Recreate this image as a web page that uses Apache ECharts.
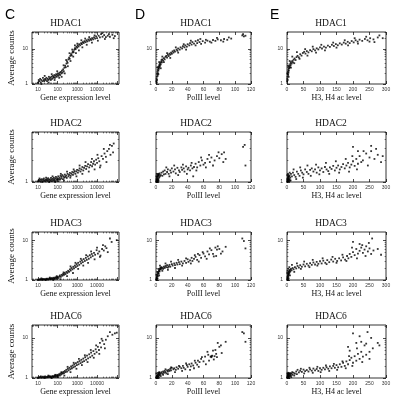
<!DOCTYPE html>
<html>
<head>
<meta charset="UTF-8">
<script src="https://cdn.jsdelivr.net/npm/echarts@6.0.0/dist/echarts.min.js"></script>
<style>
    html, body { margin: 0; padding: 0; background: #fff; }
    #chart { width: 398px; height: 407px; }
</style>
<title>HDAC scatter panels</title>
</head>
<body>
<div id="chart"></div>
<script>
    // labels
    var columnLetters = ['C', 'D', 'E'];
    var rowTitles = ['HDAC1', 'HDAC2', 'HDAC3', 'HDAC6'];
    var xNames = ['Gene expression level', 'PolII level', 'H3, H4 ac level'];
    var yName = 'Average counts';
    var xLabelValues = [[10, 100, 1000, 10000], [0, 20, 40, 60, 80, 100, 120], [0, 50, 100, 150, 200, 250, 300]];
    var yLabelValues = [1, 10];
    var xRange = [[5, 130000], [0, 120], [0, 300]];
    var yMaxByRow = [30, 5, 16, 21];

    // HDAC1
    var geneHdac1 = [[10,1.1],[11,1.3],[12,1.2],[13,1.4],[14,1.1],[15,1.3],[17,1.2],[18,1.5],[20,1.3],[21,1.2],[23,1.4],[25,1.3],[27,1.5],[29,1.2],[31,1.4],[34,1.3],[36,1.6],[39,1.4],[42,1.5],[45,1.3],[48,1.6],[52,1.4],[56,1.7],[60,1.5],[64,1.6],[68,1.8],[73,1.5],[78,1.7],[84,1.9],[90,1.6],[96,1.8],[103,2.0],[110,1.7],[118,1.9],[126,2.1],[135,1.8],[145,2.2],[155,2.0],[165,2.4],[178,2.1],[190,2.6],[205,2.3],[220,2.9],[240,3.3],[260,3.0],[280,3.8],[300,4.4],[320,4.0],[350,5.0],[380,5.6],[410,5.2],[440,6.3],[480,7.0],[520,6.5],[560,7.8],[600,8.5],[650,8.0],[700,9.4],[760,10.5],[820,9.8],[900,11.5],[980,10.8],[1050,12.5],[1150,11.6],[1250,13.5],[1400,12.6],[1550,14.5],[1700,13.6],[1900,15.5],[2100,14.6],[2300,16.5],[2600,15.4],[2900,17.5],[3200,16.2],[3600,18.5],[4000,17.0],[4500,19.0],[5000,17.8],[5600,20.0],[6300,18.5],[7000,21.0],[8000,19.5],[9000,22.5],[10000,20.0],[12000,23.5],[14000,21.0],[16000,26.0],[19000,22.0],[23000,24.5],[28000,21.5],[35000,23.5],[45000,22.0],[60000,25.0],[80000,23.0],
        [15,1.0],[22,1.7],[35,1.1],[50,1.9],[70,1.3],[95,2.3],[120,1.5],[160,1.6],[200,3.4],[230,2.0],[270,4.8],[330,3.2],[400,7.5],[450,4.5],[550,9.5],[620,6.0],[750,12.5],[850,7.5],[1000,14.0],[1200,9.0],[1600,17.5],[1800,11.0],[2500,19.5],[3000,13.0],[4000,21.5],[5500,15.0],[7500,24.0],[11000,17.0],[18000,28.0],[25000,19.0],[40000,26.0],[70000,20.0]];
    var polHdac1 = [[0.5,1.2],[0.8,1.4],[1,1.6],[1.2,1.3],[1.5,1.9],[1.8,2.2],[2,1.7],[2.2,2.5],[2.5,2.0],[2.8,2.8],[3,2.4],[3.3,3.1],[3.6,2.7],[4,3.4],[4.3,3.0],[4.7,3.7],[5,3.3],[5.5,4.0],[6,3.6],[6.5,4.3],[7,4.8],[7.5,4.1],[8,5.0],[9,4.6],[10,5.4],[11,5.0],[12,5.9],[13,6.3],[14,5.6],[15,6.8],[16,6.2],[17,7.3],[18,6.8],[19,7.8],[20,7.2],[21,8.5],[22,7.8],[23,9.0],[24,8.3],[26,9.5],[27,8.8],[28,10.2],[30,9.5],[31,11.0],[33,10.2],[34,11.8],[36,11.0],[37,12.5],[39,11.5],[40,13.5],[42,12.5],[43,14.5],[45,13.2],[46,15.5],[48,14.0],[50,16.5],[52,14.5],[53,17.5],[55,15.5],[57,13.8],[59,16.5],[62,15.0],[65,17.0],[68,16.0],[72,17.8],[75,16.8],[78,18.5],[82,17.5],[86,19.0],[90,18.0],[95,19.5],[109,24.0],[111,22.5],[113,23.5],
        [1,1.1],[2,3.0],[3,1.9],[4,4.2],[6,2.8],[8,6.0],[10,4.2],[14,7.5],[18,5.5],[25,11.0],[28,7.8],[35,13.5],[38,9.5],[44,17.0],[50,12.5],[56,19.0],[63,18.0],[70,15.0],[77,20.5],[85,16.0],[92,21.0],[110,26.0]];
    var acHdac1 = [[0.5,1.2],[1,1.4],[1.5,1.6],[2,1.3],[2.5,1.9],[3,2.2],[3.5,1.8],[4,2.5],[4.5,2.1],[5,2.8],[5.5,2.4],[6,3.1],[7,2.8],[8,3.4],[9,3.0],[10,3.8],[11,3.4],[12,4.2],[14,3.8],[16,4.5],[18,4.1],[20,4.9],[23,5.3],[26,4.8],[29,5.8],[32,6.3],[36,5.7],[40,7.0],[44,6.4],[48,7.6],[52,8.2],[56,7.3],[60,8.6],[65,7.9],[70,9.2],[75,8.5],[80,9.8],[85,9.0],[90,10.3],[95,9.6],[100,11.0],[106,10.2],[112,11.6],[118,10.8],[124,12.3],[130,11.4],[136,13.0],[142,12.0],[148,13.6],[154,12.6],[160,14.3],[166,13.2],[172,15.0],[178,14.0],[184,15.8],[190,14.5],[196,16.6],[202,15.2],[208,17.5],[214,16.0],[220,18.2],[228,16.8],[236,19.0],[244,17.5],[252,20.0],[262,18.5],[275,21.0],[290,20.0],
        [1,2.0],[3,3.3],[5,1.6],[8,4.5],[12,2.9],[16,6.0],[22,3.9],[30,8.0],[38,5.2],[55,9.8],[62,6.4],[78,11.5],[88,7.8],[104,13.0],[115,9.0],[140,15.0],[150,10.8],[175,17.5],[185,12.5],[205,20.0],[215,14.0],[240,22.0],[250,16.0],[280,24.0],[265,15.5]];

    // HDAC2
    var geneHdac2 = [[10,1.02],[11,1.06],[12,1.03],[13,1.08],[14,1.01],[15,1.05],[16,1.1],[18,1.03],[19,1.07],[20,1.12],[22,1.04],[24,1.08],[25,1.02],[27,1.06],[29,1.1],[31,1.04],[33,1.13],[35,1.07],[38,1.02],[40,1.09],[43,1.05],[46,1.14],[49,1.08],[52,1.03],[56,1.11],[60,1.06],[64,1.15],[68,1.09],[72,1.04],[77,1.12],[82,1.18],[88,1.07],[94,1.13],[100,1.09],[107,1.2],[115,1.1],[123,1.15],[132,1.08],[140,1.22],[150,1.12],[160,1.18],[172,1.25],[185,1.1],[200,1.2],[215,1.15],[230,1.27],[250,1.18],[270,1.23],[290,1.14],[320,1.3],[350,1.2],[380,1.26],[420,1.34],[460,1.22],[500,1.3],[550,1.38],[600,1.26],[660,1.35],[720,1.42],[800,1.3],[880,1.4],[970,1.48],[1070,1.35],[1180,1.45],[1300,1.55],[1450,1.4],[1600,1.5],[1800,1.62],[2000,1.45],[2200,1.58],[2500,1.68],[2800,1.52],[3100,1.65],[3500,1.78],[4000,1.6],[4500,1.72],[5000,1.9],[5600,1.66],[6300,1.8],[7000,1.95],[8000,1.75],[9000,2.05],[10000,1.85],[11500,2.15],[13000,1.95],[15000,1.7],[17000,2.3],[20000,2.1],[24000,2.5],[28000,2.25],[33000,2.7],[40000,2.9],[48000,2.4],[57000,3.2],[70000,3.45],
        [12,1.12],[17,1.0],[26,1.15],[37,1.0],[55,1.2],[75,1.0],[110,1.03],[145,1.3],[210,1.05],[300,1.4],[440,1.15],[650,1.5],[900,1.2],[1300,1.7],[1800,1.3],[2600,1.9],[3800,1.4],[5500,2.1],[7500,1.5],[10500,2.4],[14000,1.6],[22000,2.9],[30000,1.9],[45000,3.3],[65000,2.6]];
    var polHdac2 = [[0.2,1.0],[0.4,1.05],[0.6,1.1],[0.8,1.02],[1,1.15],[1.2,1.07],[1.4,1.2],[1.6,1.03],[1.8,1.12],[2,1.25],[2.2,1.08],[2.4,1.18],[2.6,1.3],[2.8,1.1],[3,1.22],[3.3,1.05],[3.6,1.28],[4,1.15],[4.5,1.32],[5,1.2],[6,1.25],[7,1.35],[8,1.22],[9,1.4],[10,1.28],[11,1.45],[12,1.3],[14,1.38],[15,1.5],[16,1.3],[18,1.45],[19,1.35],[20,1.55],[22,1.4],[24,1.5],[25,1.32],[27,1.58],[29,1.45],[30,1.38],[32,1.6],[33,1.48],[35,1.55],[36,1.4],[38,1.65],[40,1.5],[41,1.58],[43,1.45],[44,1.7],[46,1.55],[47,1.2],[48,1.62],[50,1.8],[52,1.6],[54,1.9],[56,1.7],[58,2.0],[60,1.75],[62,1.85],[65,2.1],[68,1.9],[70,2.2],[74,2.0],[77,2.3],[80,2.15],[83,2.45],[86,2.6],[88,2.1],[110,3.1],[112,3.3],[113,1.7],
        [0.5,1.2],[1.5,1.0],[2.5,1.02],[3.5,1.25],[1,1.3],[2,1.05],[13,1.6],[17,1.2],[23,1.7],[28,1.25],[34,1.75],[39,1.3],[45,1.85],[51,1.45],[57,2.2],[63,1.6],[67,2.4],[72,1.7],[79,2.6],[85,1.9]];
    var acHdac2 = [[0.5,1.0],[1,1.05],[1.5,1.1],[2,1.02],[2.5,1.15],[3,1.07],[3.5,1.2],[4,1.03],[4.5,1.12],[5,1.25],[5.5,1.08],[6,1.18],[7,1.1],[8,1.22],[9,1.05],[10,1.15],[12,1.3],[15,1.2],[18,1.35],[22,1.25],[26,1.18],[30,1.4],[34,1.3],[38,1.22],[42,1.45],[46,1.35],[50,1.28],[55,1.5],[60,1.38],[65,1.3],[70,1.48],[75,1.55],[80,1.4],[85,1.5],[90,1.35],[95,1.6],[100,1.45],[105,1.55],[110,1.38],[115,1.62],[120,1.5],[125,1.42],[130,1.6],[135,1.52],[140,1.68],[145,1.45],[150,1.58],[155,1.7],[160,1.5],[165,1.62],[170,1.78],[175,1.55],[180,1.7],[185,1.85],[190,1.6],[195,1.75],[200,1.95],[205,1.68],[210,2.1],[215,1.8],[220,2.3],[225,1.9],[230,2.0],[240,2.5],[250,2.2],[255,2.7],[265,2.1],[275,2.4],[285,1.9],[200,3.1],[215,2.7],[255,3.2],
        [1,1.25],[2,1.1],[3,1.3],[4,1.18],[6,1.03],[8,1.35],[11,1.05],[20,1.5],[28,1.1],[40,1.6],[48,1.15],[62,1.7],[72,1.22],[88,1.75],[98,1.28],[118,1.85],[128,1.3],[148,1.95],[158,1.35],[178,2.1],[188,1.4],[198,2.3],[212,1.5],[232,2.7],[245,1.7],[270,2.9],[290,2.3]];

    // HDAC3
    var geneHdac3 = [[10,1.0],[11,1.03],[12,1.01],[13,1.05],[14,1.02],[16,1.04],[17,1.0],[18,1.06],[20,1.03],[22,1.05],[24,1.01],[26,1.07],[28,1.04],[30,1.08],[33,1.02],[36,1.06],[39,1.1],[42,1.04],[45,1.08],[49,1.12],[53,1.05],[57,1.1],[62,1.14],[67,1.07],[72,1.12],[78,1.17],[85,1.1],[92,1.15],[100,1.2],[110,1.12],[120,1.22],[130,1.3],[145,1.2],[160,1.35],[175,1.28],[190,1.42],[210,1.35],[230,1.5],[250,1.4],[280,1.6],[310,1.5],[340,1.7],[380,1.6],[420,1.85],[460,1.72],[500,2.0],[560,1.85],[620,2.15],[680,1.95],[750,2.3],[830,2.1],[920,2.5],[1000,2.25],[1100,2.7],[1250,2.4],[1400,2.9],[1550,2.6],[1700,3.1],[1900,2.8],[2100,3.35],[2400,3.0],[2700,3.6],[3000,3.2],[3400,3.9],[3800,3.4],[4300,4.2],[4800,3.7],[5400,4.5],[6000,4.0],[7000,4.8],[8000,4.3],[9500,5.6],[11000,4.6],[13000,5.2],[15000,4.1],[18000,6.0],[22000,5.5],[26000,7.0],[30000,6.3],[45000,11.0],[100000,10.0],
        [15,1.1],[25,1.0],[40,1.15],[60,1.0],[90,1.25],[140,1.05],[200,1.55],[300,1.25],[450,2.2],[600,1.5],[800,2.7],[1100,1.9],[1500,3.4],[2000,2.3],[2800,4.2],[3500,2.7],[5000,5.2],[7500,3.3],[10000,6.5],[14000,3.8],[20000,7.5],[35000,5.0],[55000,9.0]];
    var polHdac3 = [[0.2,1.0],[0.5,1.05],[0.8,1.12],[1,1.2],[1.3,1.08],[1.6,1.3],[2,1.4],[2.3,1.25],[2.6,1.5],[3,1.6],[3.4,1.45],[3.8,1.7],[4.2,1.8],[4.6,1.65],[5,1.9],[5.5,2.0],[6,1.85],[6.5,2.1],[7,1.95],[8,2.05],[9,1.9],[10,2.15],[11,2.0],[12,2.25],[13,2.1],[14,2.35],[15,2.05],[16,2.2],[17,2.4],[18,2.15],[20,2.5],[21,2.3],[23,2.6],[24,2.35],[26,2.7],[27,2.45],[29,2.8],[30,2.5],[32,2.9],[34,2.6],[36,3.0],[38,2.7],[40,3.3],[41,2.85],[43,3.1],[45,3.6],[46,3.0],[48,3.4],[50,3.8],[52,3.2],[53,4.5],[55,4.2],[57,3.6],[60,4.6],[62,3.9],[65,5.2],[67,4.4],[70,5.6],[72,4.5],[75,6.5],[77,5.8],[80,6.0],[82,4.6],[88,6.8],[109,11.0],[111,9.5],[113,6.2],
        [0.5,1.35],[1,1.0],[1.5,1.6],[2,1.1],[3,1.9],[4,1.3],[5,2.3],[8,1.7],[12,2.6],[15,1.8],[19,2.9],[24,2.0],[28,3.2],[33,2.3],[38,3.5],[44,2.6],[49,4.2],[54,2.9],[59,5.0],[64,3.4],[68,6.2],[73,3.9],[78,7.0],[84,5.2],[76,4.0]];
    var acHdac3 = [[0.5,1.0],[1,1.1],[1.5,1.2],[2,1.05],[2.5,1.3],[3,1.15],[3.5,1.4],[4,1.25],[4.5,1.5],[5,1.35],[5.5,1.6],[6,1.45],[7,1.7],[8,1.55],[9,1.8],[10,1.65],[12,1.9],[14,1.75],[17,2.0],[20,1.85],[24,2.1],[28,1.95],[32,2.25],[36,2.05],[40,2.35],[45,2.15],[50,2.45],[55,2.2],[60,2.55],[65,2.3],[70,2.65],[75,2.4],[80,2.75],[85,2.45],[90,2.85],[95,2.55],[100,2.95],[105,2.6],[110,3.05],[116,2.7],[122,3.15],[128,2.8],[134,3.25],[140,2.9],[146,3.4],[152,3.0],[158,3.5],[164,3.1],[170,3.7],[176,3.25],[182,4.0],[186,3.5],[190,4.5],[195,3.8],[200,5.0],[205,4.2],[210,6.0],[215,4.6],[220,5.4],[225,6.5],[230,4.8],[235,5.8],[240,7.0],[245,5.2],[250,6.2],[255,4.5],[200,9.0],[220,8.0],[258,11.0],[285,4.3],
        [1,1.5],[2,1.7],[3,1.0],[4,1.9],[5,1.1],[7,2.1],[9,1.3],[15,2.4],[22,1.6],[30,2.6],[42,1.9],[52,2.9],[68,2.1],[78,3.2],[92,2.3],[108,3.5],[120,2.5],[138,3.8],[150,2.7],[168,4.3],[180,3.0],[197,6.5],[212,3.5],[228,7.5],[238,4.0],[248,8.5],[262,5.5],[275,6.0]];

    // HDAC6
    var geneHdac6 = [[10,1.0],[11,1.04],[12,1.02],[13,1.06],[15,1.01],[16,1.05],[18,1.08],[19,1.02],[21,1.06],[23,1.1],[25,1.03],[27,1.07],[30,1.04],[32,1.09],[35,1.05],[38,1.11],[41,1.06],[44,1.1],[48,1.03],[52,1.08],[56,1.12],[60,1.06],[65,1.1],[70,1.14],[76,1.08],[82,1.16],[88,1.1],[95,1.2],[102,1.12],[110,1.18],[120,1.25],[130,1.15],[140,1.3],[150,1.22],[165,1.35],[180,1.28],[195,1.42],[210,1.32],[230,1.5],[250,1.4],[275,1.6],[300,1.45],[330,1.7],[360,1.55],[400,1.8],[440,1.65],[480,1.95],[530,1.75],[580,2.05],[640,1.85],[700,2.2],[770,1.95],[850,2.35],[940,2.1],[1050,2.5],[1150,2.2],[1300,2.65],[1450,2.35],[1600,2.85],[1800,2.5],[2000,3.05],[2200,2.65],[2500,3.3],[2800,2.85],[3100,3.6],[3500,3.1],[4000,3.9],[4500,3.3],[5000,4.3],[5700,3.6],[6500,4.7],[7500,4.0],[8500,5.2],[9500,4.4],[11000,6.0],[12500,5.0],[14000,7.5],[16000,5.8],[19000,8.5],[23000,7.0],[28000,9.0],[45000,14.0],[80000,13.0],
        [14,1.1],[22,1.0],[34,1.15],[50,1.0],[75,1.2],[105,1.05],[155,1.4],[220,1.15],[320,1.9],[450,1.4],[650,2.4],[900,1.7],[1200,3.0],[1700,2.1],[2400,3.7],[3300,2.5],[4800,5.0],[6800,3.2],[9000,6.5],[13000,4.0],[17000,9.5],[25000,5.5],[35000,11.0],[60000,12.0],[100000,13.5]];
    var polHdac6 = [[0.2,1.0],[0.5,1.05],[0.8,1.02],[1,1.1],[1.3,1.04],[1.6,1.15],[2,1.08],[2.3,1.2],[2.6,1.12],[3,1.25],[3.4,1.1],[3.8,1.3],[4.2,1.18],[4.6,1.35],[5,1.22],[6,1.3],[7,1.4],[8,1.28],[9,1.45],[10,1.35],[11,1.5],[12,1.4],[13,1.3],[14,1.55],[15,1.45],[16,1.6],[17,1.5],[18,1.7],[19,1.55],[20,1.8],[22,1.65],[23,1.75],[25,1.6],[26,1.85],[28,1.7],[30,1.9],[32,1.75],[34,2.0],[35,1.8],[37,1.65],[39,2.1],[40,1.9],[42,2.2],[44,1.95],[45,2.3],[47,2.05],[48,1.75],[50,2.4],[52,2.15],[53,2.7],[55,2.5],[57,3.0],[60,2.6],[62,3.4],[65,4.5],[67,2.7],[69,3.4],[70,3.5],[72,4.8],[75,5.0],[77,3.3],[78,7.5],[80,6.0],[83,4.2],[88,8.0],[109,14.0],[111,13.0],[113,8.0],
        [0.5,1.3],[1.5,1.0],[2.5,1.35],[3.5,1.02],[4,1.4],[6,1.12],[9,1.2],[12,1.65],[15,1.25],[19,1.85],[24,1.4],[29,2.0],[33,1.5],[38,2.3],[43,1.6],[49,2.7],[54,1.9],[58,3.3],[63,2.2],[66,3.8],[70,3.3],[71,3.6],[73,2.9],[74,3.5],[76,4.0],[82,6.5]];
    var acHdac6 = [[0.5,1.0],[1,1.05],[1.5,1.1],[2,1.02],[2.5,1.15],[3,1.07],[3.5,1.2],[4,1.04],[4.5,1.12],[5,1.25],[6,1.08],[7,1.18],[8,1.3],[9,1.12],[10,1.22],[12,1.15],[14,1.28],[17,1.2],[20,1.35],[24,1.28],[28,1.45],[32,1.6],[36,1.38],[40,1.52],[45,1.42],[50,1.62],[55,1.48],[60,1.58],[65,1.45],[70,1.65],[75,1.52],[80,1.72],[85,1.55],[90,1.68],[95,1.5],[100,1.75],[105,1.6],[110,1.8],[115,1.65],[120,1.85],[125,1.7],[130,1.95],[135,1.75],[140,2.0],[145,1.8],[150,2.1],[155,1.85],[160,2.2],[165,1.9],[170,2.4],[175,2.0],[180,2.6],[185,2.2],[190,2.8],[195,3.2],[200,2.4],[205,3.5],[210,2.7],[215,4.0],[220,3.0],[225,4.5],[230,3.4],[240,3.8],[250,4.5],[185,6.0],[190,4.8],[200,13.0],[210,7.5],[225,8.0],[244,14.0],[240,7.2],[260,5.5],[275,7.5],
        [1,1.3],[2,1.18],[3,1.28],[4,1.35],[6,1.3],[7,1.0],[11,1.32],[13,1.05],[16,1.4],[22,1.15],[30,1.25],[42,1.7],[52,1.3],[68,1.8],[78,1.35],[92,1.9],[102,1.4],[118,2.05],[128,1.5],[142,2.25],[152,1.6],[168,2.6],[178,1.75],[188,3.5],[198,2.0],[212,5.5],[228,2.5],[235,6.5],[250,3.0],[255,10.0],[220,11.0],[280,6.5]];

    var panelData = [
        [geneHdac1, polHdac1, acHdac1],
        [geneHdac2, polHdac2, acHdac2],
        [geneHdac3, polHdac3, acHdac3],
        [geneHdac6, polHdac6, acHdac6]
    ];

    // layout (px)
    var colLeft = [32, 156, 287];
    var colWidth = [87, 95, 99];
    var rowTop = [32, 132, 232, 325];
    var rowHeight = [52, 50, 48, 53];
    var titleX = [66, 196, 331];
    var letterX = [5, 135, 270];

    var serif = '"Liberation Serif", "Times New Roman", serif';
    var sans = '"Liberation Sans", Arial, sans-serif';

    // decade ticks for a log axis
    function logTicks(min, max) {
        var major = [], minor = [];
        for (var p = -1; p <= 6; p++) {
            for (var m = 1; m <= 9; m++) {
                var v = +(m * Math.pow(10, p)).toPrecision(6);
                if (v < min || v > max) continue;
                (m === 1 ? major : minor).push(v);
            }
        }
        return { major: major, minor: minor };
    }

    function inRange(list, min, max) {
        return list.filter(function (v) { return v >= min && v <= max; });
    }

    // four edge axes (major + minor ticks on both sides); returns index of the labelled one
    function edgeAxes(list, dim, gi, type, min, max, ticks, labelOpt, nameOpt) {
        var sides = dim === 'x' ? ['bottom', 'top'] : ['left', 'right'];
        var first = list.length;
        sides.forEach(function (side, s) {
            [[ticks.major, 3, 0.7], [ticks.minor, 1.4, 0.5]].forEach(function (t, k) {
                if (!t[0].length) return;
                var ax = {
                    gridIndex: gi, type: type, min: min, max: max, position: side,
                    axisLine: { show: false },
                    splitLine: { show: false },
                    axisTick: { inside: true, length: t[1], customValues: t[0], lineStyle: { color: '#000', width: t[2] } },
                    axisLabel: { show: false }
                };
                if (s === 0 && k === 0) {
                    ax.axisLabel = labelOpt;
                    if (nameOpt) Object.assign(ax, nameOpt);
                }
                list.push(ax);
            });
        });
        return first;
    }

    var grids = [], xAxes = [], yAxes = [], series = [], graphics = [];

    rowTitles.forEach(function (title, r) {
        columnLetters.forEach(function (letter, c) {
            var gi = grids.length;
            grids.push({
                left: colLeft[c], top: rowTop[r], width: colWidth[c], height: rowHeight[r],
                show: true, borderColor: '#000', borderWidth: 0.8, backgroundColor: 'transparent',
                containLabel: false, outerBoundsMode: 'none'
            });

            var xmin = xRange[c][0], xmax = xRange[c][1];
            var isLog = c === 0;
            var xt = isLog ? logTicks(xmin, xmax) : { major: xLabelValues[c], minor: [] };
            var xi = edgeAxes(xAxes, 'x', gi, isLog ? 'log' : 'value', xmin, xmax, xt, {
                customValues: xLabelValues[c], fontSize: 5, margin: 3, color: '#333', fontFamily: sans,
                formatter: function (v) { return String(Math.round(v)); }
            }, {
                name: xNames[c], nameLocation: 'middle', nameGap: 10,
                nameTextStyle: { fontFamily: serif, fontSize: 8, color: '#111' }
            });

            var ymax = yMaxByRow[r];
            var yt = logTicks(1, ymax);
            var yi = edgeAxes(yAxes, 'y', gi, 'log', 1, ymax, yt, {
                customValues: inRange(yLabelValues, 1, ymax), fontSize: 5, margin: 4, color: '#333', fontFamily: sans,
                formatter: function (v) { return String(Math.round(v)); }
            }, c === 0 ? {
                name: yName, nameLocation: 'middle', nameGap: 16,
                nameTextStyle: { fontFamily: serif, fontSize: 9, color: '#111' }
            } : null);

            series.push({
                type: 'scatter', xAxisIndex: xi, yAxisIndex: yi,
                symbol: 'rect', symbolSize: 1.8,
                itemStyle: { color: '#000' },
                silent: true,
                data: panelData[r][c]
            });

            graphics.push({
                type: 'text', x: titleX[c], y: rowTop[r] - 9,
                style: { text: title, font: '9.5px ' + serif, fill: '#111', textAlign: 'center', textVerticalAlign: 'middle' }
            });
        });
    });

    columnLetters.forEach(function (letter, c) {
        graphics.push({
            type: 'text', x: letterX[c], y: 15,
            style: { text: letter, font: '14px ' + sans, fill: '#000', textAlign: 'left', textVerticalAlign: 'middle' }
        });
    });

    var chart = echarts.init(document.getElementById('chart'), null, { renderer: 'canvas' });
    chart.setOption({
        animation: false,
        backgroundColor: '#fff',
        grid: grids,
        xAxis: xAxes,
        yAxis: yAxes,
        series: series,
        graphic: graphics
    });
    window.addEventListener('resize', chart.resize);
</script>
</body>
</html>
